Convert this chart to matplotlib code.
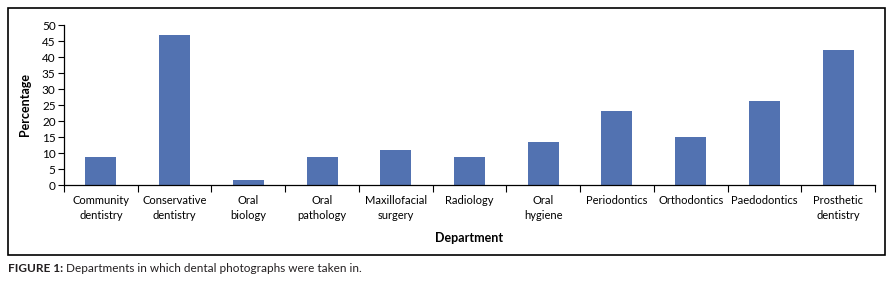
import matplotlib
matplotlib.use("Agg")
import matplotlib.pyplot as plt
from matplotlib.patches import Rectangle
import numpy as np

categories = ["Community\ndentistry", "Conservative\ndentistry", "Oral\nbiology",
              "Oral\npathology", "Maxillofacial\nsurgery", "Radiology",
              "Oral\nhygiene", "Periodontics", "Orthodontics", "Paedodontics",
              "Prosthetic\ndentistry"]
values = [8.9, 46.9, 1.6, 8.9, 10.9, 8.9, 13.4, 23.1, 15.0, 26.3, 42.2]
yticks = [0, 5, 10, 15, 20, 25, 30, 35, 40, 45, 50]

plt.rcParams['font.family'] = ['Lato', 'DejaVu Sans']

W, H = 894, 282
fig = plt.figure(figsize=(W / 100, H / 100), dpi=100)

def fx(px):
    return px / W

def fy(py):
    return 1 - py / H

# outer border box
fig.add_artist(Rectangle((fx(8), fy(255)), fx(885) - fx(8), fy(8) - fy(255),
                         transform=fig.transFigure, fill=False,
                         edgecolor="black", linewidth=1.2))

ax = fig.add_axes([fx(64), fy(185), fx(875) - fx(64), fy(25) - fy(185)])
x = np.arange(len(categories))
ax.bar(x, values, width=0.42, color="#5272B1")
ax.set_xlim(-0.5, len(categories) - 0.5)
ax.set_ylim(0, 50)
ax.set_yticks(yticks)
ax.tick_params(axis='y', labelsize=8.5, length=4, width=0.8, pad=2)
ax.set_xticks(x)
ax.set_xticklabels(categories, fontsize=8, linespacing=1.45)
ax.tick_params(axis='x', length=0, pad=7)
ax.set_xticks(np.arange(-0.5, len(categories) + 0.5, 1), minor=True)
ax.tick_params(axis='x', which='minor', length=5, width=0.8, direction='out')
for s in ["top", "right"]:
    ax.spines[s].set_visible(False)
ax.spines["left"].set_linewidth(0.9)
ax.spines["bottom"].set_linewidth(0.9)
ax.set_ylabel("Percentage", fontsize=9, fontweight="bold", labelpad=8)
ax.set_xlabel("Department", fontsize=9, fontweight="bold", labelpad=8)

# caption
t1 = fig.text(fx(8), fy(268), "FIGURE 1:", fontsize=8.5, fontweight="bold",
              color="#231F20", va="center", ha="left")
fig.canvas.draw()
bb = t1.get_window_extent()
fig.text(bb.x1 / W + fx(3), fy(268), "Departments in which dental photographs were taken in.",
         fontsize=8.5, color="#231F20", va="center", ha="left")

fig.savefig("out.png", dpi=100)
